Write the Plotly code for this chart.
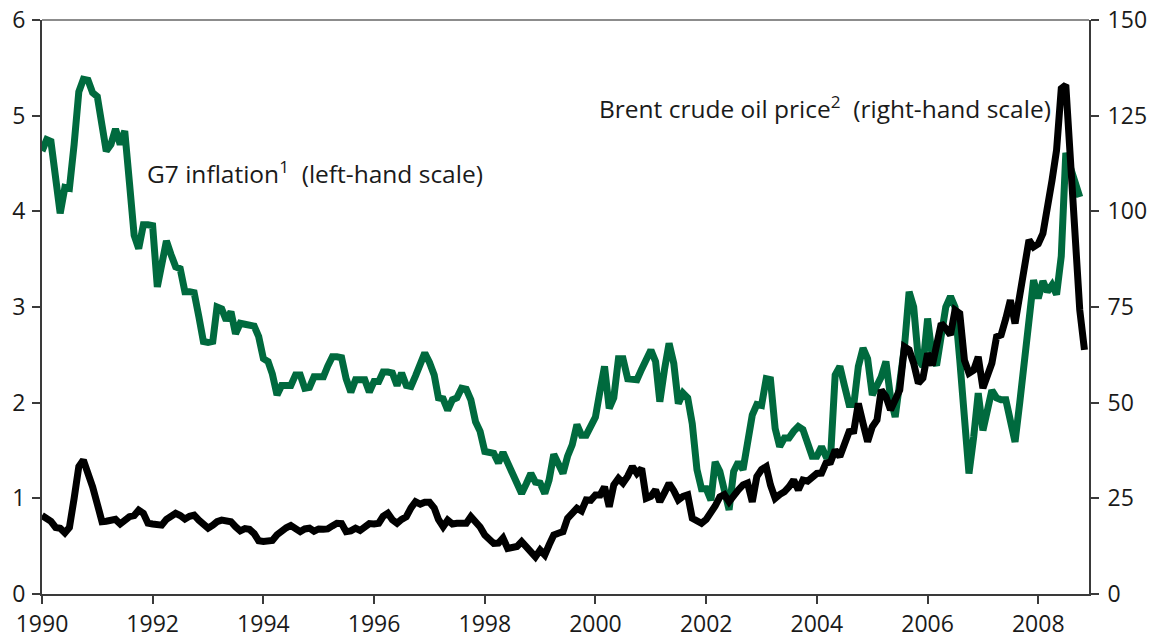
import pandas as pd
import plotly.graph_objects as go

# G7 inflation (per cent, left-hand scale), monthly from Jan 1990
g7_inflation = [
    4.63, 4.75, 4.73, 4.30, 3.98, 4.25, 4.24, 4.70, 5.25, 5.38, 5.37, 5.24,
    5.20, 4.90, 4.63, 4.70, 4.86, 4.70, 4.84, 4.30, 3.75, 3.61, 3.86, 3.86,
    3.85, 3.21, 3.45, 3.69, 3.55, 3.42, 3.40, 3.16, 3.16, 3.15, 2.90, 2.64,
    2.63, 2.64, 3.00, 2.98, 2.86, 2.95, 2.72, 2.83, 2.82, 2.81, 2.80, 2.69,
    2.46, 2.43, 2.30, 2.08, 2.18, 2.18, 2.18, 2.29, 2.29, 2.15, 2.16, 2.27,
    2.27, 2.27, 2.38, 2.48, 2.48, 2.47, 2.25, 2.11, 2.24, 2.24, 2.24, 2.11,
    2.22, 2.22, 2.32, 2.32, 2.31, 2.18, 2.31, 2.18, 2.17, 2.28, 2.40, 2.52,
    2.42, 2.29, 2.05, 2.04, 1.92, 2.03, 2.05, 2.15, 2.14, 2.03, 1.80, 1.70,
    1.49, 1.48, 1.47, 1.37, 1.48, 1.37, 1.26, 1.15, 1.05, 1.15, 1.26, 1.17,
    1.16, 1.05, 1.19, 1.46, 1.36, 1.26, 1.44, 1.56, 1.77, 1.66, 1.66, 1.75,
    1.85, 2.13, 2.38, 1.94, 2.05, 2.46, 2.46, 2.25, 2.24, 2.24, 2.35, 2.45,
    2.55, 2.43, 2.01, 2.35, 2.62, 2.41, 1.99, 2.10, 2.05, 1.78, 1.30, 1.10,
    1.10, 0.98, 1.38, 1.28, 1.10, 0.88, 1.28, 1.38, 1.30, 1.60, 1.87, 1.98,
    1.97, 2.25, 2.24, 1.73, 1.54, 1.63, 1.63, 1.70, 1.75, 1.72, 1.55, 1.44,
    1.44, 1.54, 1.44, 1.44, 2.29, 2.38, 2.18, 1.98, 1.98, 2.38, 2.57, 2.46,
    2.08, 2.18, 2.27, 2.43, 2.06, 1.85, 2.17, 2.58, 3.16, 3.00, 2.45, 2.38,
    2.88, 2.48, 2.39, 2.70, 3.00, 3.11, 3.00, 2.45, 1.71, 1.26, 1.64, 2.10,
    1.71, 1.96, 2.13, 2.05, 2.03, 2.03, 1.80, 1.59, 2.00, 2.45, 3.00, 3.28,
    3.09, 3.27, 3.16, 3.23, 3.13, 3.53, 4.61, 4.43, 4.30, 4.15,
]

# Brent crude oil price (USD per barrel, right-hand scale), monthly from Jan 1990
brent_price = [
    20.5, 19.8, 19.0, 17.4, 17.2, 16.0, 17.4, 25.0, 33.3, 35.0, 32.0, 28.0,
    23.5, 18.9, 19.0, 19.3, 19.5, 18.3, 19.2, 20.2, 20.5, 21.9, 21.1, 18.5,
    18.3, 18.0, 18.0, 19.5, 20.5, 21.1, 20.5, 19.6, 20.3, 20.6, 19.3, 18.5,
    17.2, 18.0, 18.9, 19.3, 18.9, 18.9, 17.6, 16.5, 17.1, 16.9, 15.8, 13.9,
    13.7, 13.7, 14.0, 15.5, 16.5, 17.3, 17.9, 17.1, 16.3, 17.0, 17.2, 16.4,
    17.0, 16.9, 17.0, 17.8, 18.5, 18.4, 16.3, 16.5, 17.2, 16.6, 17.5, 18.4,
    18.3, 18.5, 20.3, 21.1, 19.4, 18.5, 19.5, 20.2, 22.5, 24.1, 23.5, 24.0,
    24.0, 22.5, 19.5, 17.6, 19.3, 18.3, 18.5, 18.6, 18.5, 20.2, 19.0, 17.5,
    15.4, 14.0, 13.2, 13.3, 14.6, 11.9, 12.2, 12.4, 13.7, 12.5, 11.0, 9.7,
    11.5, 10.2, 12.8, 15.4, 15.9, 16.3, 19.8, 21.0, 22.4, 21.7, 24.6, 24.5,
    25.9, 25.9, 28.0, 22.8, 28.5, 30.2, 29.0, 30.8, 33.3, 31.5, 32.8, 25.0,
    25.5, 27.2, 24.1, 26.5, 28.9, 27.0, 24.6, 25.5, 25.9, 19.8, 19.2, 18.5,
    19.5, 21.1, 23.0, 25.4, 26.0, 24.1, 25.8, 27.2, 28.5, 29.0, 24.1, 30.7,
    32.5, 33.3, 28.5, 25.0, 26.0, 26.7, 28.0, 29.8, 27.2, 29.8, 29.5, 30.5,
    31.5, 31.6, 34.2, 34.5, 37.6, 35.9, 39.5, 42.4, 42.6, 49.8, 44.6, 39.8,
    43.7, 45.5, 53.3, 51.6, 48.1, 51.0, 53.3, 64.6, 63.8, 60.3, 55.1, 56.4,
    62.9, 59.8, 65.0, 70.7, 69.4, 67.7, 74.2, 73.3, 61.1, 57.7, 58.5, 62.0,
    53.8, 57.0, 60.3, 67.2, 67.7, 72.0, 76.8, 70.7, 77.7, 85.0, 92.5, 90.7,
    91.5, 94.2, 100.3, 108.1, 116.0, 132.1, 133.0, 110.8, 92.0, 74.2, 63.8,
]

g7_dates = pd.date_range("1990-01-01", periods=len(g7_inflation), freq="MS")
brent_dates = pd.date_range("1990-01-01", periods=len(brent_price), freq="MS")

left_ticks = [0, 1, 2, 3, 4, 5, 6]
right_ticks = [0, 25, 50, 75, 100, 125, 150]
year_ticks = [f"{y}-01-01" for y in range(1990, 2009, 2)]
year_labels = [str(y) for y in range(1990, 2009, 2)]

FONT = "Open Sans, Noto Sans, sans-serif"
GREEN = "#006a3e"
AXIS = "#3a3a3a"
TXT = "#1a1a1a"

fig = go.Figure()
fig.add_trace(go.Scatter(
    x=g7_dates, y=g7_inflation, mode="lines", name="G7 inflation",
    line=dict(color=GREEN, width=7), yaxis="y", showlegend=False,
))
fig.add_trace(go.Scatter(
    x=brent_dates, y=brent_price, mode="lines", name="Brent crude oil price",
    line=dict(color="#000000", width=7), yaxis="y2", showlegend=False,
))

axis_common = dict(
    ticks="outside", ticklen=8, tickwidth=1.5, tickcolor=AXIS,
    showline=True, linecolor=AXIS, linewidth=2,
    showgrid=False, zeroline=False, automargin=False,
    ticklabeloverflow="allow",
    tickfont=dict(family=FONT, size=23, color=TXT),
)

fig.update_layout(
    width=1157, height=641,
    margin=dict(l=42, r=68, t=20, b=47),
    paper_bgcolor="white", plot_bgcolor="white",
    font=dict(family=FONT, size=23, color=TXT),
    xaxis=dict(
        type="date", range=["1990-01-01", "2008-12-01"],
        tickmode="array", tickvals=year_ticks, ticktext=year_labels,
        **axis_common,
    ),
    yaxis=dict(
        range=[0, 6], tickmode="array", tickvals=left_ticks,
        ticklabelstandoff=2,
        **axis_common,
    ),
    yaxis2=dict(
        range=[0, 150], tickmode="array", tickvals=right_ticks,
        overlaying="y", side="right", ticklabelstandoff=4,
        **axis_common,
    ),
    shapes=[dict(type="line", xref="paper", yref="paper", x0=0, x1=1, y0=1, y1=1,
                 line=dict(color="#8c8c8c", width=2), layer="below")],
    annotations=[
        dict(text="G7 inflation<sup>1</sup>  (left-hand scale)",
             xref="paper", yref="paper", x=0.098, y=0.735,
             xanchor="left", yanchor="middle", showarrow=False,
             font=dict(family=FONT, size=24.5, color=TXT)),
        dict(text="Brent crude oil price<sup>2</sup>  (right-hand scale)",
             xref="paper", yref="paper", x=0.966, y=0.847,
             xanchor="right", yanchor="middle", showarrow=False,
             font=dict(family=FONT, size=24.5, color=TXT)),
    ],
)

fig.write_html(
    "out.html",
    config={"displayModeBar": False},
    post_script="document.body.style.margin='0';document.body.style.overflow='hidden';",
)
